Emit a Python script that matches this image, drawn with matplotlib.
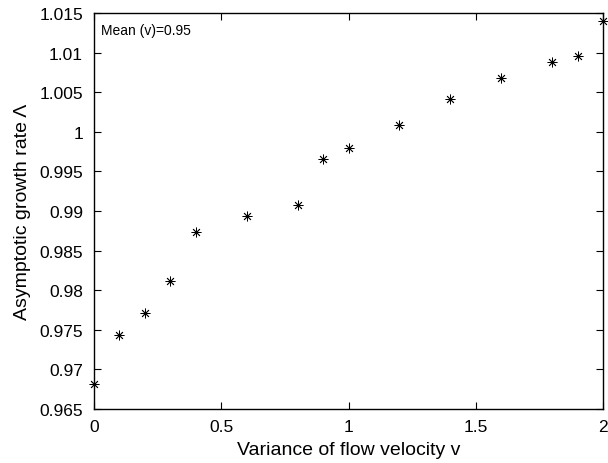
import matplotlib
matplotlib.use("Agg")
import matplotlib.pyplot as plt

plt.rcParams['font.family'] = ['Liberation Sans', 'DejaVu Sans']

variance = [0.0, 0.1, 0.2, 0.3, 0.4, 0.6, 0.8, 0.9, 1.0, 1.2, 1.4, 1.6, 1.8, 1.9, 2.0]
growth = [0.9682, 0.9743, 0.9771, 0.9812, 0.9873, 0.9894, 0.9907, 0.9966,
          0.9980, 1.0009, 1.0042, 1.0068, 1.0088, 1.0096, 1.0140]
xticks = [0, 0.5, 1, 1.5, 2]
xtick_labels = ['0', '0.5', '1', '1.5', '2']
yticks = [0.965, 0.97, 0.975, 0.98, 0.985, 0.99, 0.995, 1.0, 1.005, 1.01, 1.015]
ytick_labels = ['0.965', '0.97', '0.975', '0.98', '0.985', '0.99', '0.995', '1', '1.005', '1.01', '1.015']

fig = plt.figure(figsize=(6.08, 4.64), dpi=100)
ax = fig.add_axes([94/608, 1 - 410/464, (603 - 94)/608, (410 - 14)/464])

ax.plot(variance, growth, linestyle='none', marker=(8, 2, 0), markersize=7,
        markeredgewidth=0.6, color='black', clip_on=False)

ax.set_xlim(0, 2)
ax.set_ylim(0.965, 1.015)
ax.set_xticks(xticks)
ax.set_xticklabels(xtick_labels)
ax.set_yticks(yticks)
ax.set_yticklabels(ytick_labels)
ax.tick_params(direction='in', top=True, right=True, length=5, width=0.8,
               labelsize=12.5)
ax.tick_params(axis='x', pad=7)
ax.tick_params(axis='y', pad=8)
for s in ax.spines.values():
    s.set_linewidth(1.0)

ax.set_xlabel('Variance of flow velocity v', fontsize=14, labelpad=5)
ax.set_ylabel('Asymptotic growth rate Λ', fontsize=14, labelpad=6)
ax.text(0.013, 0.975, 'Mean (v)=0.95', transform=ax.transAxes, fontsize=10,
        ha='left', va='top')

fig.savefig('out.png', dpi=100)
